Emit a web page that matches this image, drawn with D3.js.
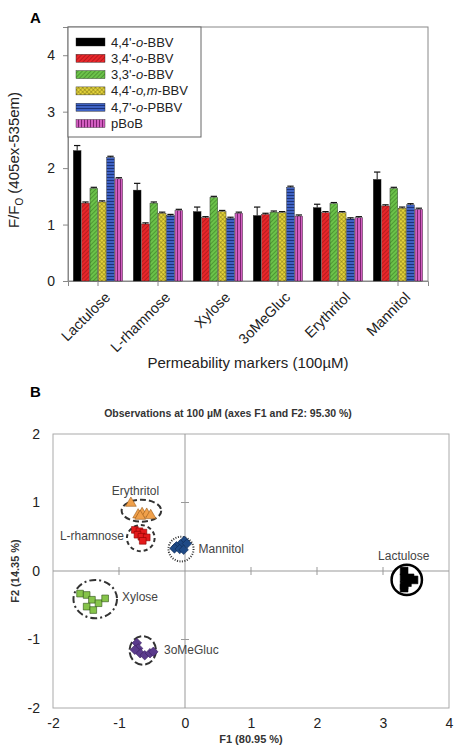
<!DOCTYPE html>
<html><head><meta charset="utf-8">
<script src="https://cdn.jsdelivr.net/npm/d3@7"></script>
<style>body{margin:0;background:#fff}svg{font-family:"Liberation Sans",Arial,sans-serif}</style>
</head><body><svg id="c" width="463" height="750"></svg>
<script>
// ---------- Panel A data ----------
const categories = ["Lactulose","L-rhamnose","Xylose","3oMeGluc","Erythritol","Mannitol"];
const seriesNames = ["4,4'-o-BBV","3,4'-o-BBV","3,3'-o-BBV","4,4'-o,m-BBV","4,7'-o-PBBV","pBoB"];
const bbv44  = [2.31,1.61,1.23,1.16,1.30,1.80];
const bbv34  = [1.38,1.01,1.12,1.18,1.21,1.33];
const bbv33  = [1.64,1.38,1.48,1.22,1.37,1.64];
const bbv44om= [1.40,1.20,1.23,1.21,1.21,1.29];
const pbbv47 = [2.19,1.16,1.11,1.66,1.10,1.35];
const pbob   = [1.81,1.25,1.20,1.15,1.12,1.27];
const err44  = [0.09,0.12,0.08,0.15,0.06,0.13];
const errOther = [0.02,0.02,0.02,0.02,0.02,0.02];
const yTicksA = [0,1,2,3,4];

// ---------- Panel B data (PCA scores) ----------
const groups = ["Erythritol","L-rhamnose","Mannitol","Xylose","3oMeGluc","Lactulose"];
const erythritolPts = [[-0.82,0.99],[-0.71,0.82],[-0.65,0.84],[-0.58,0.83],[-0.52,0.81],[-0.68,0.80]];
const rhamnosePts = [[-0.76,0.60],[-0.69,0.58],[-0.63,0.56],[-0.72,0.53],[-0.66,0.50],[-0.58,0.49],[-0.64,0.44]];
const mannitolPts = [[-0.01,0.44],[-0.07,0.39],[-0.13,0.36],[-0.16,0.33],[-0.08,0.32],[-0.02,0.31],[0.03,0.40]];
const xylosePts = [[-1.59,-0.33],[-1.49,-0.35],[-1.41,-0.42],[-1.31,-0.47],[-1.21,-0.40],[-1.49,-0.52],[-1.39,-0.57]];
const meglucPts = [[-0.73,-1.05],[-0.71,-1.13],[-0.68,-1.20],[-0.61,-1.23],[-0.53,-1.20],[-0.48,-1.18],[-0.76,-1.15]];
const lactulosePts = [[3.32,0.00],[3.32,-0.10],[3.32,-0.21],[3.41,-0.10],[3.47,-0.13],[3.37,-0.17],[3.32,-0.25]];
// confidence ellipses: [cx, cy, rx, ry] in score units
const ellipses = [[-0.66,0.88,0.30,0.16],[-0.67,0.48,0.21,0.19],[-0.06,0.32,0.19,0.18],[-1.36,-0.41,0.33,0.28],[-0.64,-1.16,0.20,0.21],[3.36,-0.13,0.23,0.22]];
const xTicksB = [-2,-1,0,1,2,3,4];
const yTicksB = [-2,-1,0,1,2];

const svg = d3.select("#c");
const defs = svg.append("defs");

// ---------- patterns ----------
function pat(id, bg, fg, kind){
  const p = defs.append("pattern").attr("id",id).attr("patternUnits","userSpaceOnUse").attr("width",3).attr("height",3);
  p.append("rect").attr("width",3).attr("height",3).attr("fill",bg);
  if(kind==="diag"){
    p.attr("patternTransform","rotate(45)");
    p.append("line").attr("x1",0).attr("y1",0).attr("x2",0).attr("y2",3).attr("stroke",fg).attr("stroke-width",1);
  } else if(kind==="cross"){
    p.attr("patternTransform","rotate(45)");
    p.append("line").attr("x1",0).attr("y1",0).attr("x2",0).attr("y2",3).attr("stroke",fg).attr("stroke-width",0.8);
    p.append("line").attr("x1",0).attr("y1",0).attr("x2",3).attr("y2",0).attr("stroke",fg).attr("stroke-width",0.8);
  } else if(kind==="h"){
    p.append("line").attr("x1",0).attr("y1",0.5).attr("x2",3).attr("y2",0.5).attr("stroke",fg).attr("stroke-width",1);
  } else if(kind==="v"){
    p.append("line").attr("x1",0.5).attr("y1",0).attr("x2",0.5).attr("y2",3).attr("stroke",fg).attr("stroke-width",1);
  }
}
pat("pRed","#e8262a","#8a0f12","diag");
pat("pGreen","#6cc24a","#2f6e1c","diag");
pat("pYellow","#e2d23a","#6e6410","cross");
pat("pBlue","#3e62c4","#1c3378","h");
pat("pPink","#d25ec0","#7c2270","v");
const fills = ["#000","url(#pRed)","url(#pGreen)","url(#pYellow)","url(#pBlue)","url(#pPink)"];

// ---------- Panel A ----------
const valuesA = [bbv44,bbv34,bbv33,bbv44om,pbbv47,pbob];
const x0 = d3.scaleBand().domain(categories).range([68,428]).paddingInner(0).paddingOuter(0);
const x1 = d3.scaleBand().domain(seriesNames).range([5,55]).padding(0);
const yA = d3.scaleLinear().domain([0,4.5]).range([281,27]);

const gA = svg.append("g");
gA.append("rect").attr("x",68).attr("y",27).attr("width",360).attr("height",254).attr("fill","none").attr("stroke","#888").attr("stroke-width",1);

const axL = gA.append("g").attr("transform","translate(68,0)").call(d3.axisLeft(yA).tickValues(yTicksA).tickSize(5).tickPadding(8).tickFormat(d3.format("d")));
axL.select(".domain").attr("stroke","#888");
axL.selectAll(".tick line").attr("stroke","#888");
axL.selectAll("text").attr("font-size",14).attr("fill","#222");

const axB = gA.append("g").attr("transform","translate(0,281)").call(d3.axisBottom(x0).tickSize(5).tickFormat(""));
axB.select(".domain").attr("stroke","#888");
axB.selectAll(".tick line").attr("stroke","#888");
axB.selectAll(".tick").append("text")
  .attr("transform","translate(6,10) rotate(-45)")
  .attr("text-anchor","end").attr("dy","0.7em").attr("font-size",14.5).attr("fill","#222")
  .text(d=>d);

categories.forEach((cat,ci)=>{
  seriesNames.forEach((s,si)=>{
    const v = valuesA[si][ci];
    const e = si===0 ? err44[ci] : errOther[ci];
    const bx = x0(cat)+x1(s);
    const bw = x1.bandwidth();
    gA.append("line").attr("x1",bx+bw/2).attr("x2",bx+bw/2).attr("y1",yA(v)).attr("y2",yA(v+e)).attr("stroke","#111").attr("stroke-width",1);
    gA.append("line").attr("x1",bx+1).attr("x2",bx+bw-1).attr("y1",yA(v+e)).attr("y2",yA(v+e)).attr("stroke","#111").attr("stroke-width",1.2);
    gA.append("rect").attr("x",bx+0.3).attr("y",yA(v)).attr("width",bw-0.6).attr("height",yA(0)-yA(v))
      .attr("fill",fills[si]).attr("stroke","#222").attr("stroke-width",0.4);
  });
});

// legend
const lg = gA.append("g");
lg.append("rect").attr("x",68).attr("y",27).attr("width",133).attr("height",110).attr("fill","#fff").attr("stroke","#666").attr("stroke-width",1);
const legendLabels = [
  ["4,4'-",["o",true],"-BBV"],
  ["3,4'-",["o",true],"-BBV"],
  ["3,3'-",["o",true],"-BBV"],
  ["4,4'-",["o,m",true],"-BBV"],
  ["4,7'-",["o",true],"-PBBV"],
  ["pBoB"]
];
seriesNames.forEach((s,i)=>{
  const yy = 42 + i*16.3;
  lg.append("rect").attr("x",76).attr("y",yy-4).attr("width",29).attr("height",8).attr("fill",fills[i]).attr("stroke","#222").attr("stroke-width",0.4);
  const t = lg.append("text").attr("x",111).attr("y",yy+4.5).attr("font-size",13).attr("fill","#222");
  legendLabels[i].forEach(part=>{
    if(Array.isArray(part)) t.append("tspan").attr("font-style","italic").text(part[0]);
    else t.append("tspan").text(part);
  });
});

svg.append("text").attr("x",30).attr("y",23).attr("font-size",15).attr("font-weight","bold").text("A");
const yl = svg.append("text").attr("transform","translate(19,160) rotate(-90)").attr("text-anchor","middle").attr("font-size",15).attr("fill","#222");
yl.append("tspan").text("F/F");
yl.append("tspan").attr("font-size",10).attr("dy",4).text("O");
yl.append("tspan").attr("dy",-4).text(" (405ex-535em)");
svg.append("text").attr("x",248).attr("y",368).attr("text-anchor","middle").attr("font-size",15).attr("fill","#222").text("Permeability markers (100\u00B5M)");

// ---------- Panel B ----------
const xB = d3.scaleLinear().domain([-2,4]).range([53,449]);
const yB = d3.scaleLinear().domain([-2,2]).range([708,434]);
const gB = svg.append("g");
gB.append("rect").attr("x",xB(-2)).attr("y",yB(2)).attr("width",xB(4)-xB(-2)).attr("height",yB(-2)-yB(2)).attr("fill","none").attr("stroke","#aaa").attr("stroke-width",1);
gB.append("line").attr("x1",xB(-2)).attr("x2",xB(4)).attr("y1",yB(0)).attr("y2",yB(0)).attr("stroke","#999");
gB.append("line").attr("x1",xB(0)).attr("x2",xB(0)).attr("y1",yB(2)).attr("y2",yB(-2)).attr("stroke","#999");
xTicksB.filter(d=>d>-2&&d<4&&d!==0).forEach(d=>{
  gB.append("line").attr("x1",xB(d)).attr("x2",xB(d)).attr("y1",yB(0)-4).attr("y2",yB(0)+4).attr("stroke","#999");
});
yTicksB.filter(d=>d>-2&&d<2&&d!==0).forEach(d=>{
  gB.append("line").attr("x1",xB(0)-4).attr("x2",xB(0)+4).attr("y1",yB(d)).attr("y2",yB(d)).attr("stroke","#999");
});
const axBx = gB.append("g").attr("transform",`translate(0,${yB(-2)})`).call(d3.axisBottom(xB).tickValues(xTicksB).tickSize(0).tickPadding(10).tickFormat(d3.format("d")));
axBx.select(".domain").remove();
axBx.selectAll("text").attr("font-size",14).attr("fill","#222").text(d=>d<0?"-"+Math.abs(d):d);
const axBy = gB.append("g").attr("transform",`translate(${xB(-2)},0)`).call(d3.axisLeft(yB).tickValues(yTicksB).tickSize(0).tickPadding(13).tickFormat(d3.format("d")));
axBy.select(".domain").remove();
axBy.selectAll("text").attr("font-size",14).attr("fill","#222").text(d=>d<0?"-"+Math.abs(d):d);

svg.append("text").attr("x",30).attr("y",397).attr("font-size",15).attr("font-weight","bold").text("B");
svg.append("text").attr("x",228).attr("y",417).attr("text-anchor","middle").attr("font-size",10.5).attr("font-weight","bold").attr("fill","#333")
  .text("Observations at 100 \u00B5M (axes F1 and F2: 95.30 %)");
svg.append("text").attr("x",251).attr("y",743).attr("text-anchor","middle").attr("font-size",11).attr("font-weight","bold").attr("fill","#333").text("F1 (80.95 %)");
svg.append("text").attr("transform",`translate(19,${yB(0)}) rotate(-90)`).attr("text-anchor","middle").attr("font-size",11).attr("font-weight","bold").attr("fill","#333").text("F2 (14.35 %)");

const groupStyle = {
  "Erythritol": {sym:d3.symbolTriangle, size:50, rot:0, fill:"#f0a04a", stroke:"#9a5a1a", dash:"6,3", sw:2, label:"top"},
  "L-rhamnose": {sym:d3.symbolSquare, size:45, rot:0, fill:"#e41a1c", stroke:"#8a0000", dash:"4,3", sw:2, label:"left"},
  "Mannitol":   {sym:d3.symbolSquare, size:45, rot:45, fill:"#1f4a86", stroke:"#0e2a55", dash:"1,1.5", sw:2, label:"right"},
  "Xylose":     {sym:d3.symbolSquare, size:45, rot:0, fill:"#86c44a", stroke:"#2d5016", dash:"7,3,2,3", sw:2, label:"right"},
  "3oMeGluc":   {sym:d3.symbolSquare, size:45, rot:45, fill:"#5a3a8c", stroke:"#3a1f60", dash:"8,3", sw:2, label:"right"},
  "Lactulose":  {sym:d3.symbolSquare, size:60, rot:0, fill:"#000", stroke:"#000", dash:null, sw:2.5, label:"top"}
};
const groupPts = [erythritolPts, rhamnosePts, mannitolPts, xylosePts, meglucPts, lactulosePts];

groups.forEach((g,gi)=>{
  const st = groupStyle[g];
  const [cx,cy,rx,ry] = ellipses[gi];
  const pcx = xB(cx), pcy = yB(cy), prx = xB(cx+rx)-xB(cx), pry = yB(cy)-yB(cy+ry);
  const gg = gB.append("g");
  gg.append("ellipse").attr("cx",pcx).attr("cy",pcy).attr("rx",prx).attr("ry",pry)
    .attr("fill",g==="Lactulose"?"#fff":"none").attr("stroke",g==="Lactulose"?"#000":"#333")
    .attr("stroke-width",st.sw).attr("stroke-dasharray",st.dash);
  groupPts[gi].forEach(p=>{
    const sx = xB(p[0]), sy = yB(p[1]);
    gg.append("path").attr("d",d3.symbol().type(st.sym).size(st.size)()).attr("transform",`translate(${sx},${sy}) rotate(${st.rot})`)
      .attr("fill",st.fill).attr("stroke",st.stroke).attr("stroke-width",0.6);
    if(g==="Xylose"){
      gg.append("path").attr("d",d3.symbol().type(d3.symbolTimes).size(22)()).attr("transform",`translate(${sx},${sy})`)
        .attr("fill","#1e3a0e");
    }
  });
  const t = gg.append("text").attr("font-size",12).attr("fill","#444").text(g);
  if(st.label==="top") t.attr("x",pcx-(g==="Erythritol"?6:3)).attr("y",pcy-pry-5).attr("text-anchor","middle");
  else if(st.label==="left") t.attr("x",pcx-prx-3).attr("y",pcy+2).attr("text-anchor","end");
  else t.attr("x",pcx+prx+(g==="3oMeGluc"?8:5)).attr("y",pcy+(g==="Xylose"?2:4)).attr("text-anchor","start");
});
</script></body></html>
